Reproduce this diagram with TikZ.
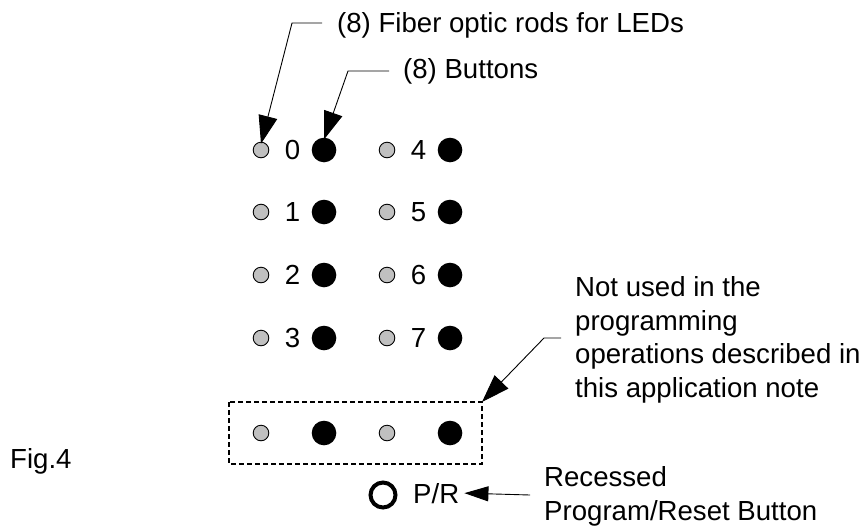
\documentclass[tikz,border=0pt]{standalone}
\usepackage{fontspec}
\setmainfont{Liberation Sans}
\usetikzlibrary{arrows.meta}
\tikzset{
  led/.style={circle,draw=black,line width=0.9pt,fill=ledgray,minimum size=15.6pt,inner sep=0pt},
  btn/.style={circle,fill=black,minimum size=24.6pt,inner sep=0pt},
  num/.style={inner sep=0pt,font=\fontsize{27.6}{33.5}\selectfont},
  lbl/.style={inner sep=0pt,font=\fontsize{27.6}{33.5}\selectfont,align=left},
  leader/.style={line width=0.9pt,-{Triangle[length=28pt,width=19pt]}},
}
\definecolor{ledgray}{HTML}{C0C0C0}
\begin{document}
\begin{tikzpicture}[x=1pt,y=-1pt]
\path[use as bounding box] (0,0) rectangle (866,525);
% grid of LEDs and buttons
\foreach \r/\y in {0/150,1/212,2/275,3/338}{
  \node[led] (ledL\r) at (261,\y) {};
  \node[num] (numL\r) at (292.5,\y) {\r};
  \node[btn] (btnL\r) at (324,\y) {};
}
\foreach \r/\y in {4/150,5/212,6/275,7/338}{
  \node[led] (ledR\r) at (387,\y) {};
  \node[num] (numR\r) at (418.5,\y) {\r};
  \node[btn] (btnR\r) at (450,\y) {};
}
% unused row
\node[led] (ledU1) at (261,433) {};
\node[btn] (btnU1) at (324,433) {};
\node[led] (ledU2) at (387,433) {};
\node[btn] (btnU2) at (450,433) {};
\draw[line width=1.3pt,dash pattern=on 5pt off 3pt] (229,402) rectangle (482,464);
\coordinate (boxNE) at (482,402);
% P/R button
\node[circle,draw=black,line width=4pt,minimum size=25pt,inner sep=0pt] (pr) at (383,495) {};
\node[num,anchor=base west] (prt) at (413,503) {P/R};
% labels
\node[lbl,anchor=base west] (fib) at (337,32) {(8) Fiber optic rods for LEDs};
\node[lbl,anchor=base west] (but) at (403,78) {(8) Buttons};
\node[lbl,anchor=base west] (nu) at (575,397) {Not used in the\\programming\\operations described in\\this application note};
\node[lbl,anchor=base west] (rec) at (544,520) {Recessed\\Program/Reset Button};
\node[lbl,anchor=base west] (fig) at (10,468) {Fig.4};
% leaders
\coordinate (k1s) at (322,23);
\coordinate (k1) at (292,23);
\draw[leader] (k1s) -- (k1) -- ([yshift=-2pt]ledL0.north);
\coordinate (k2s) at (389,71);
\coordinate (k2) at (348,71);
\draw[leader] (k2s) -- (k2) -- ([yshift=-2pt]btnL0.north);
\coordinate (k3s) at (561,338);
\coordinate (k3) at (544,338);
\draw[leader] (k3s) -- (k3) -- (boxNE);
\coordinate (k4s) at (530,495);
\draw[line width=0.9pt,-{Triangle[length=24pt,width=15pt]}] (k4s) -- ([xshift=5pt]prt.east);
\end{tikzpicture}
\end{document}
